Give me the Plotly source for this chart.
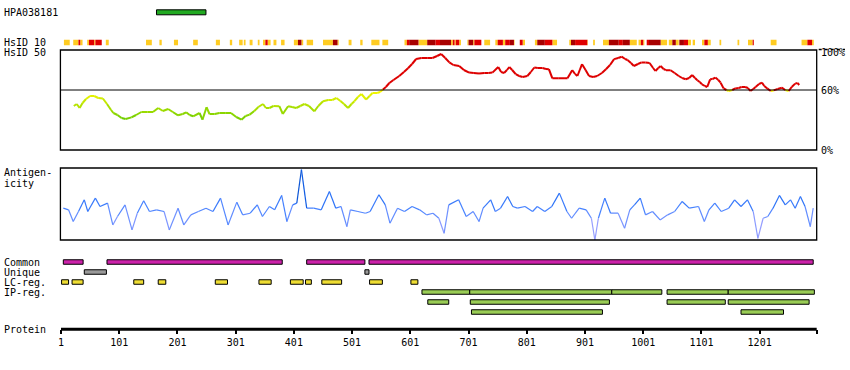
import plotly.graph_objects as go

# ---------------- data ----------------
protein_length = 1299
tick_vals = [1, 101, 201, 301, 401, 501, 601, 701, 801, 901, 1001, 1101, 1201]
tick_labels = ["1", "101", "201", "301", "401", "501", "601", "701", "801", "901", "1001", "1101", "1201"]

antigen_name = "HPA038181"
antigen_start, antigen_end = 165, 250

# HsID 10 strip: start, end, level (1 = yellow, 2 = red, 3 = dark red)
hsid10_start = [6, 22, 31, 34, 46, 49, 58, 60, 78, 147, 170, 195, 228, 267, 291, 307, 315, 325, 339, 348, 352, 356, 366, 379,
                401, 408, 414, 423, 451, 468, 476, 495, 515, 534, 553, 591, 595, 599, 615, 630, 644, 652, 671, 674, 677, 679, 685,
                699, 701, 709, 711, 728, 747, 751, 760, 764, 772, 779, 789, 794, 815, 819, 832, 845, 874, 877, 884, 905, 915,
                932, 942, 959, 966, 978, 993, 997, 1001, 1007, 1011, 1031, 1045, 1051, 1057, 1063, 1071, 1078, 1086, 1102, 1106,
                1112, 1132, 1163, 1181, 1189, 1220, 1273, 1283, 1291]
hsid10_end = [16, 31, 34, 38, 49, 58, 60, 71, 83, 157, 174, 202, 236, 274, 295, 313, 318, 330, 342, 352, 356, 361, 371, 385,
              408, 414, 417, 434, 468, 476, 478, 500, 519, 548, 563, 595, 599, 615, 630, 644, 652, 671, 674, 677, 679, 685, 688,
              701, 709, 711, 723, 738, 751, 760, 764, 772, 779, 780, 794, 798, 819, 832, 845, 853, 877, 884, 905, 906, 918,
              942, 959, 966, 978, 990, 997, 1001, 1003, 1011, 1031, 1042, 1051, 1057, 1062, 1071, 1078, 1083, 1090, 1106, 1112,
              1117, 1135, 1166, 1189, 1191, 1230, 1283, 1291, 1294]
hsid10_level = [1, 1, 2, 1, 1, 2, 1, 2, 1, 1, 1, 1, 1, 1, 1, 1, 1, 1, 1, 1, 2, 1, 1, 1,
                1, 3, 1, 1, 1, 3, 1, 1, 1, 1, 1, 1, 2, 3, 1, 3, 2, 3, 1, 2, 1, 2, 1,
                1, 3, 1, 2, 1, 1, 2, 1, 2, 3, 1, 2, 1, 1, 3, 2, 1, 1, 3, 2, 1, 1,
                1, 3, 2, 3, 1, 1, 2, 1, 2, 3, 1, 1, 3, 1, 3, 2, 1, 1, 1, 2,
                1, 1, 1, 1, 2, 1, 1, 2, 1]

# HsID 50 identity curve (%)
identity_pos = [23, 28, 33, 38, 44, 51, 58, 65, 73, 80, 87, 91, 98, 105, 112, 122, 130, 139, 150, 159, 168, 176, 185, 193,
                202, 210, 216, 222, 228, 239, 244, 251, 256, 265, 273, 283, 293, 302, 311, 318, 325, 333, 340, 348, 353, 359,
                366, 376, 382, 391, 398, 405, 412, 419, 427, 436, 443, 451, 460, 467, 474, 481, 487, 494, 500, 505, 511, 517,
                525, 531, 536, 544, 549, 554, 559, 565, 572, 582, 590, 597, 604, 611, 620, 630, 639, 647, 654, 661, 668, 675,
                685, 693, 702, 710, 719, 728, 735, 742, 752, 757, 762, 767, 771, 776, 782, 788, 794, 802, 808, 814, 820, 828,
                834, 839, 845, 855, 865, 871, 879, 884, 888, 892, 896, 902, 908, 915, 922, 930, 937, 944, 951, 958, 964, 970,
                974, 980, 985, 992, 998, 1005, 1012, 1018, 1022, 1027, 1031, 1036, 1040, 1048, 1055, 1062, 1068, 1074, 1080,
                1085, 1090, 1094, 1098, 1102, 1107, 1111, 1116, 1120, 1125, 1130, 1134, 1139, 1144, 1148, 1154, 1159, 1165,
                1170, 1176, 1181, 1185, 1190, 1194, 1200, 1205, 1209, 1214, 1220, 1225, 1232, 1239, 1245, 1251, 1256, 1262,
                1266, 1269]
identity_val = [44, 46, 42, 47, 51, 54, 54, 52, 51.5, 46, 40, 37, 35, 32, 31, 32.6, 35, 38, 38, 38, 42, 39, 41, 38,
                34.7, 36, 37.7, 35, 33.7, 37, 30.3, 42.8, 36, 36, 37, 37, 37, 33, 30.3, 34, 35.4, 39, 43, 46, 42, 42,
                44, 43.8, 36, 43.8, 43, 42, 44, 46, 44, 38.7, 44, 48.8, 50, 50, 52, 49, 46, 42, 46, 48.8, 53, 56,
                50.5, 54, 57, 57, 58, 60.6, 63, 67, 70, 74, 78, 81.8, 86, 91, 92, 92, 92, 94, 96, 92, 87.6, 85,
                84, 80, 77.4, 77, 76.4, 77, 77, 77.4, 83, 78, 77, 80, 83, 80, 75.8, 74, 73, 74, 78, 82.5, 82, 82,
                81, 80.8, 71.7, 71.7, 71.7, 71.7, 79.8, 76, 74, 80, 85.8, 80, 74, 73, 74, 77, 80.8, 85, 90.9, 92, 93.3, 91,
                90, 87, 84, 86, 87.6, 87.6, 87, 82, 79, 82, 84, 81, 79.8, 79.8, 77, 74, 72, 70.7, 72,
                75, 72, 69.7, 68, 65.7, 64, 63, 70.7, 71, 72.4, 70, 67.3, 61.6, 60, 59, 60, 61.6, 62,
                63, 63, 62, 59, 61, 63, 66, 67.3, 64, 61.6, 59, 59.6, 61, 62.3, 60, 59, 63, 66.4,
                67, 65]

# Antigenicity profile (relative, 0-100)
antigenicity_pos = [5, 14, 22, 31, 41, 47, 60, 68, 81, 90, 98, 111, 123, 132, 143, 153, 165, 178, 187, 202, 212, 224, 237,
                    250, 262, 275, 288, 303, 313, 326, 338, 347, 359, 368, 380, 389, 399, 406, 414, 423, 435, 448, 462, 473,
                    482, 492, 498, 511, 524, 532, 547, 558, 566, 579, 591, 604, 617, 629, 640, 650, 659, 667, 684, 697, 709,
                    719, 726, 739, 747, 756, 768, 777, 785, 798, 811, 819, 832, 844, 857, 870, 878, 891, 903, 912, 918, 924,
                    935, 945, 958, 969, 978, 986, 996, 1005, 1017, 1030, 1043, 1055, 1068, 1080, 1096, 1106, 1114, 1124,
                    1135, 1148, 1158, 1169, 1180, 1190, 1198, 1207, 1215, 1224, 1235, 1245, 1254, 1262, 1271, 1279, 1288, 1293]
antigenicity_val = [44.2, 41.9, 25.6, 39.6, 55.8, 39.6, 58.2, 46.5, 51.2, 20.9, 32.6, 48.8, 14, 37.2, 54.4, 39.6, 41.9, 39.6,
                    14, 44.2, 20.9, 34.9, 39.6, 44.2, 39.6, 58.2, 20.9, 52.6, 34.9, 37.2, 48.8, 32.6, 46.5, 41.9, 61.9, 25.6,
                    48.8, 51.2, 97.7, 44.2, 44.2, 41.9, 67.4, 44.2, 46.5, 18.6, 41.9, 39.6, 37.2, 39.6, 62.8, 48.8, 23.3,
                    44.2, 39.6, 46.5, 41.9, 34.9, 37.2, 30.2, 9.3, 48.8, 55.8, 32.6, 39.6, 25.6, 44.2, 55.8, 39.6, 44.2, 60.5,
                    46.5, 44.2, 46.5, 39.6, 46.5, 39.6, 46.5, 65.1, 39.6, 30.2, 44.2, 41.9, 30.2, 0, 30.2, 58.2, 37.2, 37.2,
                    16.3, 41.9, 48.8, 58.2, 34.9, 39.6, 27.9, 34.9, 39.6, 53.5, 44.2, 46.5, 25.6, 41.9, 51.2, 39.6, 44.2,
                    55.8, 46.5, 55.8, 39.6, 2.3, 30.2, 32.6, 44.2, 61.9, 48.8, 55.8, 44.2, 60.5, 46.5, 18.6, 44.2]

# Feature tracks
common_start = [5, 80, 423, 530]
common_end = [39, 381, 523, 1293]
unique_start = [41, 523]
unique_end = [79, 530]
lc_start = [2, 20, 126, 168, 266, 341, 395, 421, 449, 531, 602]
lc_end = [14, 39, 143, 181, 287, 362, 417, 431, 483, 553, 614]
ip_start = [621, 703, 947, 1042, 1147, 631, 704, 1042, 1147, 706, 1169]
ip_end = [703, 947, 1033, 1147, 1295, 667, 943, 1142, 1286, 931, 1242]
ip_lane = [0, 0, 0, 0, 0, 1, 1, 1, 1, 2, 2]

# ---------------- layout helpers ----------------
W, H = 850, 370
PX1 = 61.0          # pixel of residue 1
PXR = 0.5822        # pixels per residue
XR = [-6, 1306]


def px(r):
    return PX1 + (r - 1) * PXR


def pxx(p):
    return p / W


def pyy(p):
    return 1 - p / H


# row axis: row r sits at pixel 262 + 10 r
ROW_RANGE = [(H - 262) / 10.0, -262 / 10.0]


def row_of(pixel_y):
    return (pixel_y - 262) / 10.0


FONT = "DejaVu Sans Mono"
fig = go.Figure()

# ---- antigen bar ----
fig.add_trace(go.Bar(orientation="h", x=[antigen_end - antigen_start], base=[antigen_start], y=[row_of(12.3)],
                     width=0.5, marker=dict(color="#22AA22", line=dict(color="black", width=1)),
                     xaxis="x", yaxis="y3", hoverinfo="skip"))

# ---- HsID 10 strip ----
hs_colors = {1: "#FFCC22", 2: "#E00000", 3: "#A80000"}
for lvl, col in hs_colors.items():
    s = [a for a, l in zip(hsid10_start, hsid10_level) if l == lvl]
    e = [b for b, l in zip(hsid10_end, hsid10_level) if l == lvl]
    fig.add_trace(go.Bar(orientation="h", x=[b - a for a, b in zip(s, e)], base=s, y=[row_of(42.5)] * len(s),
                         width=0.55, marker=dict(color=col, line=dict(width=0)),
                         xaxis="x", yaxis="y3", hoverinfo="skip"))


# ---- identity curve (colored segments) ----
def ident_color(v):
    if v >= 60:
        return "#DD0000"
    t = min(max((v - 30) / 30.0, 0), 1)
    t = round(t * 10) / 10
    r = int(110 + 145 * t)
    g = int(205 + 45 * t)
    return "rgb(%d,%d,0)" % (r, g)


groups = {}
for i in range(len(identity_pos) - 1):
    v = (identity_val[i] + identity_val[i + 1]) / 2
    c = ident_color(v)
    xs, ys = groups.setdefault(c, ([], []))
    xs += [identity_pos[i], identity_pos[i + 1], None]
    ys += [identity_val[i], identity_val[i + 1], None]
for c, (xs, ys) in groups.items():
    fig.add_trace(go.Scatter(x=xs, y=ys, mode="lines", line=dict(color=c, width=2), xaxis="x", yaxis="y",
                             hoverinfo="skip"))

# 60% reference line
fig.add_trace(go.Scatter(x=[0, protein_length], y=[60, 60], mode="lines", line=dict(color="black", width=1),
                         xaxis="x", yaxis="y", hoverinfo="skip"))


# ---- antigenicity (colored segments) ----
def anti_color(v):
    stops = [(0, (185, 170, 255)), (25, (125, 150, 255)), (45, (70, 130, 255)), (65, (20, 100, 240)),
             (100, (0, 55, 150))]
    v = round(v / 5) * 5
    for (v0, c0), (v1, c1) in zip(stops[:-1], stops[1:]):
        if v0 <= v <= v1:
            t = (v - v0) / (v1 - v0)
            return "rgb(%d,%d,%d)" % tuple(int(a + (b - a) * t) for a, b in zip(c0, c1))
    return "rgb(0,55,150)"


groups = {}
for i in range(len(antigenicity_pos) - 1):
    v = (antigenicity_val[i] + antigenicity_val[i + 1]) / 2
    c = anti_color(v)
    xs, ys = groups.setdefault(c, ([], []))
    xs += [antigenicity_pos[i], antigenicity_pos[i + 1], None]
    ys += [antigenicity_val[i], antigenicity_val[i + 1], None]
for c, (xs, ys) in groups.items():
    fig.add_trace(go.Scatter(x=xs, y=ys, mode="lines", line=dict(color=c, width=1.2), xaxis="x", yaxis="y2",
                             hoverinfo="skip"))


# ---- feature tracks ----
def track(starts, ends, rows, color):
    fig.add_trace(go.Bar(orientation="h", x=[b - a for a, b in zip(starts, ends)], base=starts, y=rows,
                         width=0.45, marker=dict(color=color, line=dict(color="black", width=1)),
                         xaxis="x", yaxis="y3", hoverinfo="skip"))


track(common_start, common_end, [0] * len(common_start), "#CC22AA")
track(unique_start, unique_end, [1] * len(unique_start), "#999999")
track(lc_start, lc_end, [2] * len(lc_start), "#EEDD33")
track(ip_start, ip_end, [3 + l for l in ip_lane], "#99CC55")

# ---- protein line ----
fig.add_trace(go.Scatter(x=[1, protein_length], y=[row_of(329.3)] * 2, mode="lines",
                         line=dict(color="black", width=3), xaxis="x", yaxis="y3", hoverinfo="skip"))

# ---------------- shapes ----------------
shapes = []
box_l, box_r = pxx(px(0)), pxx(px(protein_length))
for top, bot in [(50, 150), (168, 240)]:
    shapes.append(dict(type="rect", xref="paper", yref="paper", x0=box_l, x1=box_r, y0=pyy(bot), y1=pyy(top),
                       line=dict(color="black", width=1.3), fillcolor="rgba(0,0,0,0)"))
shapes.append(dict(type="line", xref="paper", yref="paper", x0=box_r + 2 / W, x1=845 / W, y0=pyy(49.5), y1=pyy(49.5),
                   line=dict(color="black", width=1.3, dash="dot")))

# ---------------- annotations ----------------
ann = []


def label(text, x, y, anchor="left"):
    ann.append(dict(text=text, x=pxx(x), y=pyy(y), xref="paper", yref="paper", showarrow=False,
                    xanchor=anchor, yanchor="middle", font=dict(family=FONT, size=10, color="black")))


label(antigen_name, 2, 12.5)
label("HsID 10", 2, 42.3)
label("HsID 50", 2, 52.5)
label("Antigen-", 2, 172.7)
label("icity", 2, 183.3)
label("Common", 2, 262.3)
label("Unique", 2, 272.3)
label("LC-reg.", 2, 282.3)
label("IP-reg.", 2, 292.3)
label("Protein", 2, 329)
label("100%", 819, 52)
label("60%", 819, 90.5)
label("0%", 819, 150)

xdom = [px(XR[0]) / W, px(XR[1]) / W]
fig.update_layout(
    width=W, height=H, margin=dict(l=0, r=0, t=0, b=0),
    paper_bgcolor="white", plot_bgcolor="rgba(0,0,0,0)",
    showlegend=False, barmode="overlay", hovermode=False,
    shapes=shapes, annotations=ann,
    xaxis=dict(domain=xdom, range=XR, anchor="free", position=pyy(329.3), showgrid=False, zeroline=False,
               showline=False, ticks="outside", ticklen=4, tickwidth=2, tickcolor="black",
               tickvals=tick_vals + [protein_length], ticktext=tick_labels + [""],
               tickfont=dict(family=FONT, size=10, color="black"), fixedrange=True),
    yaxis=dict(domain=[pyy(150), pyy(50)], range=[0, 100], visible=False, anchor="x", fixedrange=True),
    yaxis2=dict(domain=[pyy(240), pyy(168)], range=[0, 100], visible=False, anchor="x", fixedrange=True),
    yaxis3=dict(domain=[0, 1], range=ROW_RANGE, visible=False, anchor="x", fixedrange=True),
)

fig.write_html("out.html", config={"displayModeBar": False, "staticPlot": True},
               post_script="document.body.style.margin='0';document.body.style.overflow='hidden';")
